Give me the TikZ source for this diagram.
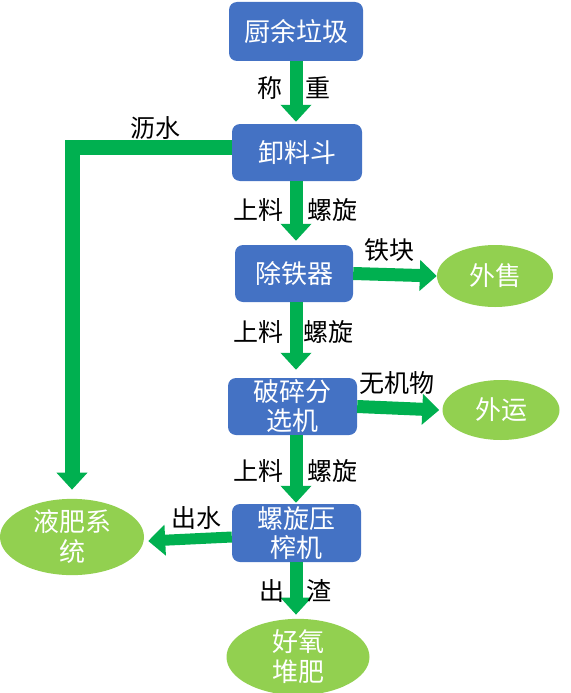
\documentclass[tikz,border=0pt]{standalone}
\usepackage{fontspec}
\newfontfamily\cjk{Noto Sans CJK SC}
\usetikzlibrary{arrows.meta}
\definecolor{boxblue}{HTML}{4472C4}
\definecolor{arrgreen}{HTML}{00B050}
\definecolor{ellgreen}{HTML}{92D050}
\tikzset{
  procbox/.style={draw=none, fill=boxblue, rounded corners=8pt, text=white, align=center, inner sep=0pt,
    font=\cjk\fontsize{26}{29}\selectfont},
  endell/.style={ellipse, draw=none, fill=ellgreen, text=white, align=center, inner sep=0pt,
    font=\cjk\fontsize{26}{30}\selectfont},
  lbl/.style={text=black, inner sep=0pt, font=\cjk\fontsize{25}{27}\selectfont},
  arr/.style={draw=arrgreen, line width=13pt, line join=miter, -{Triangle[width=30pt,length=17pt]}},
}
\usetikzlibrary{shapes.geometric}
\begin{document}
\begin{tikzpicture}[x=1pt,y=-1pt]
\useasboundingbox (0,0) rectangle (570,693);
% process boxes
\node[procbox, minimum width=134pt, minimum height=59pt] (n1) at (296,31.5) {厨余垃圾};
\node[procbox, minimum width=130pt, minimum height=57pt] (n2) at (297,152.5) {卸料斗};
\node[procbox, minimum width=118pt, minimum height=57pt] (n3) at (294,273.5) {除铁器};
\node[procbox, minimum width=129pt, minimum height=57pt] (n4) at (292.5,406.5) {破碎分\\选机};
\node[procbox, minimum width=129pt, minimum height=58pt] (n5) at (296.5,533) {螺旋压\\榨机};
% end ellipses
\node[endell, minimum width=116pt, minimum height=62pt] (e1) at (495,276) {外售};
\node[endell, minimum width=117pt, minimum height=60pt] (e2) at (501,410) {外运};
\node[endell, minimum width=144pt, minimum height=70pt] (e3) at (72,537) {液肥系\\统};
\node[endell, minimum width=143pt, minimum height=70pt] (e4) at (298,657) {好氧\\堆肥};
% vertical flow arrows
\coordinate (cx) at (296,0);
\draw[arr] (n1.south -| cx) -- ([yshift=2pt]n2.north -| cx);
\draw[arr] (n2.south -| cx) -- ([yshift=4pt]n3.north -| cx);
\draw[arr] (n3.south -| cx) -- ([yshift=8pt]n4.north -| cx);
\draw[arr] (n4.south -| cx) -- ([yshift=1pt]n5.north -| cx);
\draw[arr] (n5.south -| cx) -- ([yshift=4pt]e4.north -| cx);
% horizontal arrows
\draw[arr] (n3.east) -- (e1.west);
\draw[arr] (n4.east) -- ([xshift=-3pt]e2.west);
\draw[arr, line width=11pt] ([yshift=-4pt]n5.west) -- ([xshift=4pt,yshift=-4pt]e3.east);
% drainage line
\draw[arr, line width=15pt] ([yshift=5pt]n2.west) -| ([yshift=9pt]e3.north);
% labels
\node[lbl] (l1) at (270,88) {称};
\node[lbl] (l2) at (318,88) {重};
\node[lbl] (l3) at (155,128) {沥水};
\node[lbl] (l4) at (258,210) {上料};
\node[lbl] (l5) at (332,210) {螺旋};
\node[lbl] (l6) at (389,250) {铁块};
\node[lbl] (l7) at (258,332) {上料};
\node[lbl] (l8) at (328,332) {螺旋};
\node[lbl] (l9) at (397,383) {无机物};
\node[lbl] (l10) at (258,471) {上料};
\node[lbl] (l11) at (332,471) {螺旋};
\node[lbl] (l12) at (196,518) {出水};
\node[lbl] (l13) at (272,591) {出};
\node[lbl] (l14) at (319,591) {渣};
\end{tikzpicture}
\end{document}
